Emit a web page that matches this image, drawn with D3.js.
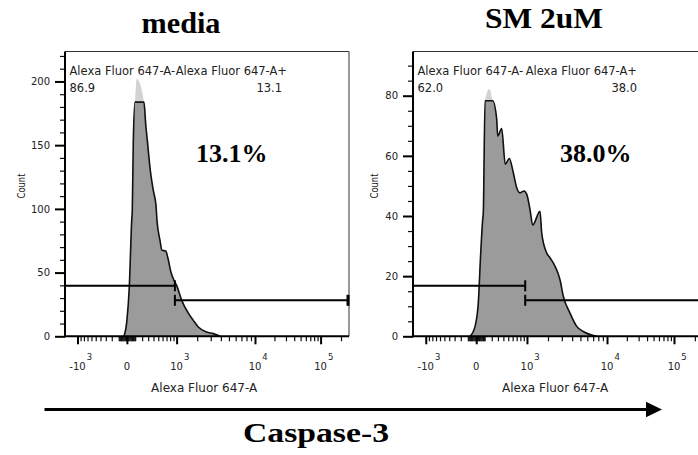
<!DOCTYPE html>
<html><head><meta charset="utf-8">
<script src="https://cdn.jsdelivr.net/npm/d3@7"></script>
<style>body{margin:0;background:#fff}svg{display:block}</style>
</head><body>
<svg id="chart" width="698" height="455"></svg>
<script>
// ---------------- data ----------------
const panelTitles = ["media", "SM 2uM"];
const percentLabels = ["13.1%", "38.0%"];
const gateNegLabel = "Alexa Fluor 647-A-";
const gatePosLabel = "Alexa Fluor 647-A+";
const gateNegValues = ["86.9", "62.0"];
const gatePosValues = ["13.1", "38.0"];
const gateBoundary = 944;
const xAxisTitle = "Alexa Fluor 647-A";
const yAxisTitle = "Count";
const caption = "Caspase-3";

// histogram: media (intensity, count)
const mediaIntensity = [-34, 0, 27, 56, 63, 76, 98, 121, 229, 257, 285, 346, 396, 451, 472, 539, 586, 679, 739, 824, 916, 1000, 1202, 1505, 1770, 2069, 2665, 3229, 3905];
const mediaCount     = [0, 12.5, 38.7, 91, 98.8, 153.7, 183.8, 202.1, 183.8, 166.8, 153.7, 127.6, 114.5, 102.7, 91, 75.3, 67.5, 66.9, 61.2, 50.2, 43.9, 40, 28.2, 18.2, 12.5, 7.3, 3.4, 2.1, 0];
// histogram: SM 2uM (intensity, count)
const smIntensity = [-72, -13, 23, 51, 75, 83, 105, 164, 214, 279, 296, 368, 438, 523, 616, 701, 790, 907, 994, 1114, 1225, 1559, 1646, 1923, 2126, 2466, 2849, 3129, 3771, 4526, 5399, 7673];
const smCount     = [0, 3.3, 11.1, 27.7, 38.8, 41.2, 78.3, 82.2, 78.3, 72.2, 66.6, 69.1, 57.2, 59.1, 54.4, 49.4, 47.7, 48.3, 47.2, 42.2, 37, 41.6, 34.4, 27.7, 26.1, 23.3, 18.8, 13.3, 7.7, 3.3, 1.6, 0];
// display clip level of the dark histogram (counts)
const clipCounts = [183.8, 78.3];

// y axes
const yMaxes = [223.5, 94.7];
const yMajorSteps = [50, 20];
const yMinorSteps = [10, 5];

// x axis (biexponential display)
const xMajorValues = [-1000, 0, 1000, 10000, 100000];
const xMajorBase = ["-10", "0", "10", "10", "10"];
const xMajorExp  = ["3", "", "3", "4", "5"];
const xMax = 262144;
const xAnchorValues = [-1000, 0, 1000, 10000, 100000, 262144];
const xAnchorFractions = [0.044, 0.218, 0.393, 0.669, 0.900, 1.0];
const symC = 500;

// ---------------- layout ----------------
const sans = "'DejaVu Sans', sans-serif";
const serif = "'Liberation Serif','Times New Roman',serif";
const yTop = 51.5, yBottom = 336.3;
const layout = [
  {x0: 65,  w: 284, titleX: 181, titleY: 33, titleLen: 79,  pctX: 166.7, posLblR: 222, posValR: 217, countX: 25},
  {x0: 413, w: 290, titleX: 544, titleY: 28, titleLen: 118, pctX: 182.8, posLblR: 224, posValR: 224, countX: 378}
];
const series = [
  {intens: mediaIntensity, counts: mediaCount},
  {intens: smIntensity, counts: smCount}
];

const T = v => Math.sign(v) * Math.log1p(Math.abs(v) / symC);

const xMinor = [];
[10, 100, 1000, 10000, 100000].forEach(d => {
  for (let k = 1; k <= 9; k++) {
    const v = k * d;
    if (!xMajorValues.includes(v) && v <= xMax) xMinor.push(v);
    if (d <= 100) xMinor.push(-v);
  }
});

const svg = d3.select("#chart");

layout.forEach((L, i) => {
  const S = series[i];
  const xs = d3.scaleLinear().domain(xAnchorValues.map(T)).range(xAnchorFractions.map(f => L.x0 + f * L.w));
  const ys = d3.scaleLinear().domain([0, yMaxes[i]]).range([yBottom, yTop]);
  const g = svg.append("g");

  // clip to plot
  const cid = "clip" + i;
  svg.append("clipPath").attr("id", cid).append("rect")
    .attr("x", L.x0).attr("y", yTop).attr("width", L.w).attr("height", yBottom - yTop);

  const pts = S.intens.map((v, k) => ({x: v, y: S.counts[k]}));
  const clipped = pts.map(d => ({x: d.x, y: Math.min(d.y, clipCounts[i])}));
  const area = d3.area().curve(d3.curveMonotoneX)
    .x(d => xs(T(d.x))).y0(ys(0)).y1(d => ys(d.y));
  const line = d3.line().curve(d3.curveMonotoneX)
    .x(d => xs(T(d.x))).y(d => ys(d.y));
  const hg = g.append("g").attr("clip-path", `url(#${cid})`);
  hg.append("path").datum(pts).attr("d", area).attr("fill", "#d2d2d2");
  hg.append("path").datum(clipped).attr("d", area).attr("fill", "#9b9b9b");
  hg.append("path").datum(clipped).attr("d", line).attr("fill", "none")
    .attr("stroke", "#111").attr("stroke-width", 1.6).attr("stroke-linejoin", "round");

  // frame (top + right)
  g.append("path")
    .attr("d", `M${L.x0},${yTop}H${L.x0 + L.w}V${yBottom}`)
    .attr("fill", "none").attr("stroke", "#333").attr("stroke-width", 1);

  // gates
  const xb = xs(T(gateBoundary));
  const xl = L.x0, xr = xs(T(xMax));
  const gy1 = yBottom - 50.5, gy2 = yBottom - 36;
  const gg = g.append("g").attr("stroke", "#000").attr("fill", "none");
  gg.append("line").attr("x1", xl).attr("x2", xb).attr("y1", gy1).attr("y2", gy1).attr("stroke-width", 2);
  gg.append("line").attr("x1", xb).attr("x2", xb).attr("y1", gy1 - 5.5).attr("y2", gy1 + 5.5).attr("stroke-width", 2);
  gg.append("line").attr("x1", xb).attr("x2", xr).attr("y1", gy2).attr("y2", gy2).attr("stroke-width", 2);
  gg.append("line").attr("x1", xb).attr("x2", xb).attr("y1", gy2 - 5.5).attr("y2", gy2 + 5.5).attr("stroke-width", 2);
  gg.append("line").attr("x1", xr - 1).attr("x2", xr - 1).attr("y1", gy2 - 5.5).attr("y2", gy2 + 5.5).attr("stroke-width", 3);

  // y axis
  const yMaj = d3.range(0, yMaxes[i] + 1e-9, yMajorSteps[i]).filter(v => v <= yMaxes[i]);
  const yMin = d3.range(0, yMaxes[i], yMinorSteps[i]).filter(v => !yMaj.includes(v));
  const yaMin = g.append("g").attr("transform", `translate(${L.x0},0)`)
    .call(d3.axisLeft(ys).tickValues(yMin).tickSize(5).tickFormat(""));
  yaMin.select(".domain").remove();
  yaMin.selectAll("line").attr("stroke", "#111").attr("stroke-width", 1.2);
  const yaMaj = g.append("g").attr("transform", `translate(${L.x0},0)`)
    .call(d3.axisLeft(ys).tickValues(yMaj).tickSize(10).tickPadding(5).tickFormat(d3.format("d")));
  yaMaj.select(".domain").remove();
  yaMaj.selectAll("line").attr("stroke", "#000").attr("stroke-width", 2);
  yaMaj.selectAll("text").attr("font-family", sans).attr("font-size", 10).attr("fill", "#222");
  g.append("line").attr("x1", L.x0).attr("x2", L.x0).attr("y1", yTop).attr("y2", yBottom + 1)
    .attr("stroke", "#000").attr("stroke-width", 2);

  // x axis
  const xaMin = g.append("g").attr("transform", `translate(0,${yBottom})`)
    .call(d3.axisBottom(xs).tickValues(xMinor.map(T)).tickSize(5).tickFormat(""));
  xaMin.select(".domain").remove();
  xaMin.selectAll("line").attr("stroke", "#111").attr("stroke-width", 1.2);
  const xaMaj = g.append("g").attr("transform", `translate(0,${yBottom})`)
    .call(d3.axisBottom(xs).tickValues(xMajorValues.map(T)).tickSize(8).tickFormat(""));
  xaMaj.select(".domain").remove();
  xaMaj.selectAll("line").attr("stroke", "#000").attr("stroke-width", 2);
  g.append("line").attr("x1", L.x0 - 1).attr("x2", L.x0 + L.w).attr("y1", yBottom).attr("y2", yBottom)
    .attr("stroke", "#000").attr("stroke-width", 2);

  xMajorValues.forEach((v, k) => {
    const cx = xs(T(v));
    const base = g.append("text").attr("x", cx).attr("y", 369.5)
      .attr("text-anchor", "middle").attr("font-family", sans).attr("font-size", 10)
      .attr("fill", "#222").text(xMajorBase[k]);
    if (xMajorExp[k]) {
      const bw = base.node().getComputedTextLength();
      g.append("text").attr("x", cx + bw / 2 + 1).attr("y", 359.5)
        .attr("font-family", sans).attr("font-size", 8.5).attr("fill", "#222").text(xMajorExp[k]);
    }
  });

  // axis titles
  g.append("text").attr("x", L.x0 + 0.49 * L.w).attr("y", 391.5).attr("text-anchor", "middle")
    .attr("font-family", sans).attr("font-size", 12).attr("fill", "#222").text(xAxisTitle);
  g.append("text").attr("transform", `translate(${L.countX},186) rotate(-90)`)
    .attr("text-anchor", "middle").attr("font-family", sans).attr("font-size", 10)
    .attr("textLength", 25).attr("lengthAdjust", "spacingAndGlyphs")
    .attr("fill", "#222").text(yAxisTitle);

  // gate labels
  const lt = g.append("g").attr("font-family", sans).attr("font-size", 11.5).attr("fill", "#222");
  lt.append("text").attr("x", L.x0 + 4.5).attr("y", 75).text(gateNegLabel);
  lt.append("text").attr("x", L.x0 + L.posLblR).attr("y", 75).attr("text-anchor", "end").text(gatePosLabel);
  lt.append("text").attr("x", L.x0 + 4.5).attr("y", 91.5).text(gateNegValues[i]);
  lt.append("text").attr("x", L.x0 + L.posValR).attr("y", 91.5).attr("text-anchor", "end").text(gatePosValues[i]);

  // percent label
  g.append("text").attr("x", L.x0 + L.pctX).attr("y", 161.7).attr("text-anchor", "middle")
    .attr("font-family", serif).attr("font-weight", "bold").attr("font-size", 26)
    .attr("fill", "#000").text(percentLabels[i]);

  // panel title
  g.append("text").attr("x", L.titleX).attr("y", L.titleY).attr("text-anchor", "middle")
    .attr("font-family", serif).attr("font-weight", "bold").attr("font-size", 30)
    .attr("textLength", L.titleLen).attr("lengthAdjust", "spacingAndGlyphs")
    .attr("fill", "#000").text(panelTitles[i]);
});

// arrow + caption
svg.append("line").attr("x1", 44.5).attr("x2", 648).attr("y1", 409.5).attr("y2", 409.5)
  .attr("stroke", "#000").attr("stroke-width", 3);
svg.append("path").attr("d", "M646,401.8L662,409.5L646,417.2Z").attr("fill", "#000");
svg.append("text").attr("x", 316).attr("y", 442).attr("text-anchor", "middle")
  .attr("font-family", serif).attr("font-weight", "bold").attr("font-size", 28)
  .attr("textLength", 146).attr("lengthAdjust", "spacingAndGlyphs")
  .attr("fill", "#000").text(caption);
</script>
</body></html>
